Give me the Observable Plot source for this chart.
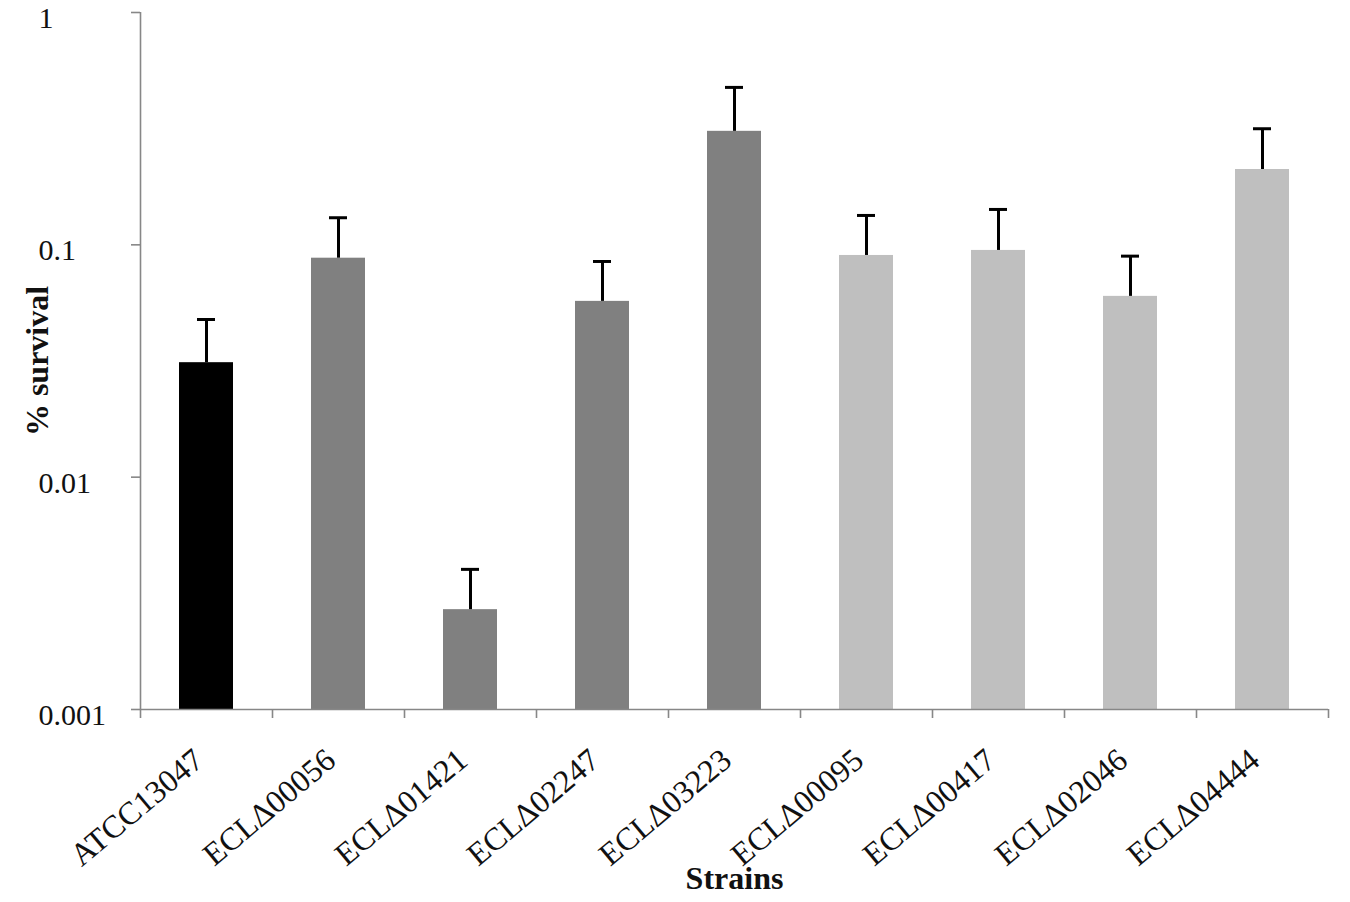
<!DOCTYPE html>
<html>
<head>
<meta charset="utf-8">
<script src="https://cdn.jsdelivr.net/npm/d3@7"></script>
<script src="https://cdn.jsdelivr.net/npm/@observablehq/plot@0.6"></script>
<style>
  html, body { margin: 0; padding: 0; background: #fff; }
  #chart svg { display: block; }
</style>
</head>
<body>
<div id="chart"></div>
<script>
// Data
const strains = ["ATCC13047", "ECLΔ00056", "ECLΔ01421", "ECLΔ02247", "ECLΔ03223", "ECLΔ00095", "ECLΔ00417", "ECLΔ02046", "ECLΔ04444"];
const groups = ["wild type", "group 1", "group 1", "group 1", "group 1", "group 2", "group 2", "group 2", "group 2"];
const survival = [0.0311, 0.0876, 0.00269, 0.0571, 0.308, 0.0900, 0.0946, 0.0600, 0.211];
const errorHigh = [0.0477, 0.1308, 0.00401, 0.0848, 0.476, 0.1338, 0.142, 0.0894, 0.316];
const yTicks = [0.001, 0.01, 0.1, 1];
const yTickLabels = ["0.001", "0.01", "0.1", "1"];

const groupNames = ["wild type", "group 1", "group 2"];
const groupColors = ["#000000", "#808080", "#bfbfbf"];

const rows = strains.map((s, i) => ({strain: s, i, value: survival[i], high: errorHigh[i], group: groups[i]}));
const boundaries = d3.range(strains.length + 1);
const yTickRows = yTicks.map((v, k) => ({v, label: yTickLabels[k]}));

const axisGray = "#878787";
const font = "'Liberation Serif', 'Times New Roman', serif";

const plot = Plot.plot({
  width: 1350,
  height: 902,
  marginLeft: 140,
  marginRight: 22,
  marginTop: 12,
  marginBottom: 193,
  style: {fontFamily: font, background: "#fff"},
  x: {type: "linear", domain: [0, strains.length], axis: null},
  y: {type: "log", domain: [0.001, 1], axis: null},
  color: {domain: groupNames, range: groupColors},
  marks: [
    // bars
    Plot.rectY(rows, {x1: d => d.i, x2: d => d.i + 1, y1: 0.001, y2: "value", fill: "group", insetLeft: 39, insetRight: 39}),
    // error bars
    Plot.ruleX(rows, {x: d => d.i + 0.5, y1: "value", y2: "high", stroke: "#000", strokeWidth: 3}),
    Plot.ruleY(rows, {y: "high", x1: d => d.i + 0.5, x2: d => d.i + 0.5, insetLeft: -9, insetRight: -9, stroke: "#000", strokeWidth: 3}),
    // axis lines
    Plot.ruleX([0], {stroke: axisGray, strokeWidth: 1.6}),
    Plot.ruleY([0.001], {stroke: axisGray, strokeWidth: 1.6}),
    // y ticks
    Plot.ruleY(yTickRows, {y: "v", x1: 0, x2: 0, insetLeft: -9, stroke: axisGray, strokeWidth: 1.6}),
    // x ticks at category boundaries
    Plot.ruleX(boundaries, {x: d => d, y1: 0.001, y2: 0.001, insetBottom: -9, stroke: axisGray, strokeWidth: 1.6}),
    // y tick labels
    Plot.text(yTickRows, {y: "v", text: "label", frameAnchor: "left", textAnchor: "start", dx: -102, dy: 6, fontSize: 30, fill: "#111"}),
    // x tick labels
    Plot.text(rows, {x: d => d.i + 0.5, y: 0.001, text: "strain", rotate: -40, textAnchor: "end", lineAnchor: "bottom", dx: -1, dy: 54, fontSize: 32, fill: "#111"}),
    // axis titles
    Plot.text(["% survival"], {frameAnchor: "left", rotate: -90, textAnchor: "middle", lineAnchor: "bottom", dx: -93, fontSize: 32, fontWeight: "bold", fill: "#111"}),
    Plot.text(["Strains"], {frameAnchor: "bottom", textAnchor: "middle", lineAnchor: "bottom", dy: 179, fontSize: 32, fontWeight: "bold", fill: "#111"})
  ]
});
document.getElementById("chart").appendChild(plot);
</script>
</body>
</html>
